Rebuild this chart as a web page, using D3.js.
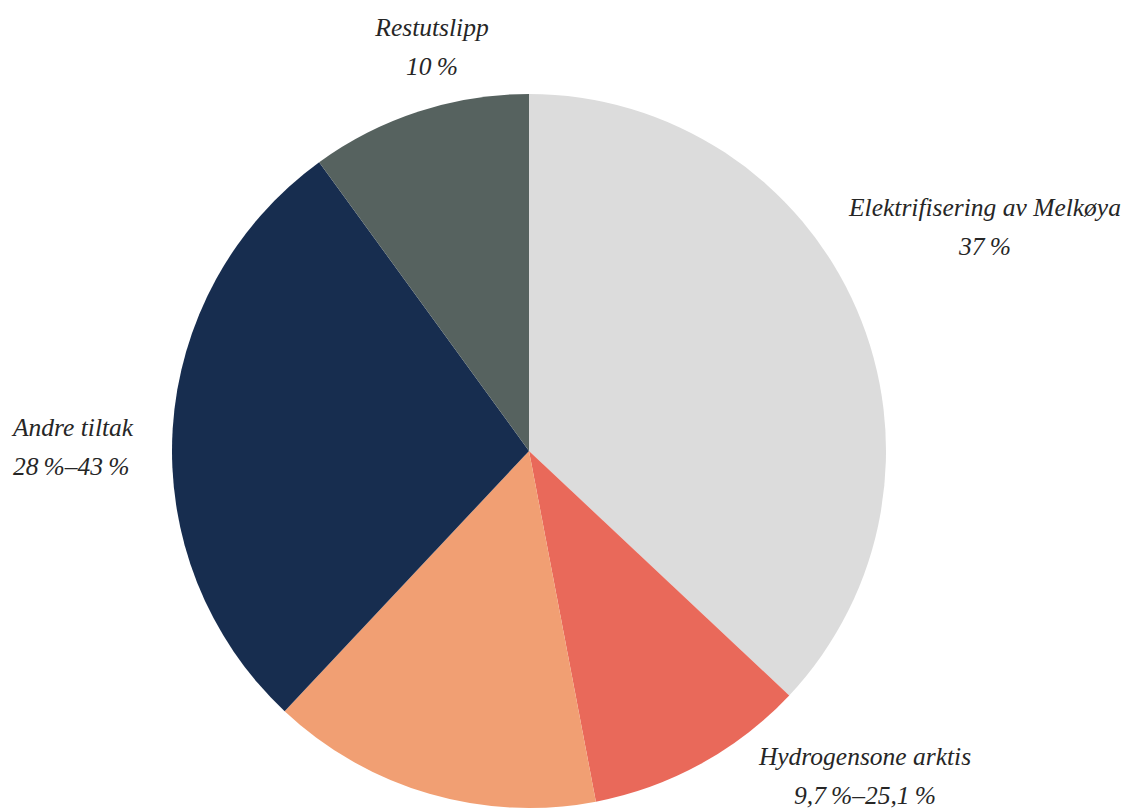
<!DOCTYPE html>
<html lang="no">
<head>
<meta charset="utf-8">
<script src="https://cdn.jsdelivr.net/npm/d3@7/dist/d3.min.js"></script>
<style>
  html, body { margin: 0; padding: 0; background: #ffffff; }
  svg { display: block; }
  .lbl { font-family: "Liberation Serif", "DejaVu Serif", serif; font-style: italic; fill: #262626; }
</style>
</head>
<body>
<svg id="chart" width="1126" height="809"></svg>
<script>
// Share of emission cuts, clockwise from 12 o'clock
const categories = ["Elektrifisering av Melkøya", "Hydrogensone arktis", "Hydrogensone arktis (øvre)", "Andre tiltak", "Restutslipp"];
const values = [37, 10, 15, 28, 10];
const colors = ["#dcdcdc", "#e9695a", "#f19f73", "#172d4f", "#56625f"];

// Label text: name line and value line
const labelNames = ["Elektrifisering av Melkøya", "Hydrogensone arktis", "Andre tiltak", "Restutslipp"];
const labelValues = ["37\u2009%", "9,7\u2009%–25,1\u2009%", "28\u2009%–43\u2009%", "10\u2009%"];

const svg = d3.select("#chart");
const cx = 529, cy = 451, radius = 357;

const pie = d3.pie().sort(null).value(d => d)(values);
const arc = d3.arc().innerRadius(0).outerRadius(radius);

const g = svg.append("g").attr("transform", `translate(${cx},${cy})`);
g.selectAll("path")
  .data(pie)
  .join("path")
  .attr("d", arc)
  .attr("fill", (d, i) => colors[i]);

// Label placement (anchor point, alignment)
const labelLayout = [
  { x: 985, y: 216, anchor: "middle" },
  { x: 865, y: 765, anchor: "middle" },
  { x: 13,  y: 436, anchor: "start" },
  { x: 432, y: 36,  anchor: "middle" }
];

const labels = svg.append("g");
labelNames.forEach((name, i) => {
  const p = labelLayout[i];
  const t = labels.append("text")
    .attr("class", "lbl")
    .attr("text-anchor", p.anchor)
    .attr("font-size", 25.5);
  t.append("tspan").attr("x", p.x).attr("y", p.y).text(name);
  t.append("tspan").attr("x", p.x).attr("y", p.y + 39).text(labelValues[i]);
});
</script>
</body>
</html>
